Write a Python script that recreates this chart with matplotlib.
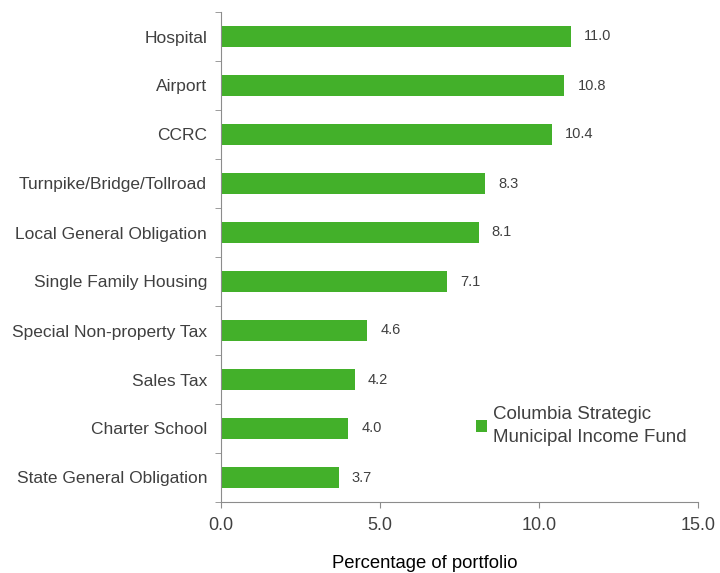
import matplotlib.pyplot as plt
import numpy as np

plt.rcParams['font.family'] = ['Liberation Sans', 'DejaVu Sans']

# data (top to bottom in the picture)
categories = ['Hospital', 'Airport', 'CCRC', 'Turnpike/Bridge/Tollroad',
              'Local General Obligation', 'Single Family Housing',
              'Special Non-property Tax', 'Sales Tax', 'Charter School',
              'State General Obligation']
values = [11.0, 10.8, 10.4, 8.3, 8.1, 7.1, 4.6, 4.2, 4.0, 3.7]
series_name = 'Columbia Strategic\nMunicipal Income Fund'

bar_color = '#43B02A'
text_color = '#404040'
axis_color = '#8C8C8C'

fig = plt.figure(figsize=(7.2, 5.73), dpi=100)
ax = fig.add_axes([221 / 720, 1 - 502 / 573, (698 - 221) / 720, (502 - 12) / 573])

y = np.arange(len(categories))[::-1]
ax.barh(y, values, height=0.41, color=bar_color, label=series_name)

for yy, v in zip(y, values):
    ax.annotate(f'{v:.1f}', (v, yy), xytext=(9.5, 0), textcoords='offset points',
                va='center', ha='left', fontsize=10.5, color=text_color)

ax.set_xlim(0, 15)
ax.set_ylim(-0.5, len(categories) - 0.5)
ax.set_xticks([0, 5, 10, 15])
ax.set_xticklabels(['0.0', '5.0', '10.0', '15.0'], fontsize=13, color=text_color)
ax.set_yticks(y)
ax.set_yticklabels(categories, fontsize=12.5, color=text_color)
ax.tick_params(axis='y', length=0, pad=10)
ax.set_yticks(np.arange(-0.5, len(categories)), minor=True)
ax.tick_params(axis='y', which='minor', length=4.5, color=axis_color)
ax.tick_params(axis='x', length=4.5, color=axis_color, pad=6)

for s in ['top', 'right']:
    ax.spines[s].set_visible(False)
for s in ['left', 'bottom']:
    ax.spines[s].set_color(axis_color)

fig.text(425 / 720, 1 - 564 / 573, 'Percentage of portfolio', ha='center', va='center',
         fontsize=13.3, color='black')

leg = ax.legend(loc='upper left', bbox_to_anchor=(0.5, 0.23), frameon=False,
                fontsize=13.5, handlelength=0.55, handleheight=0.55, handletextpad=0.35,
                labelcolor=text_color)
for t in leg.get_texts():
    t.set_linespacing(1.45)

fig.savefig('out.png', dpi=100)
